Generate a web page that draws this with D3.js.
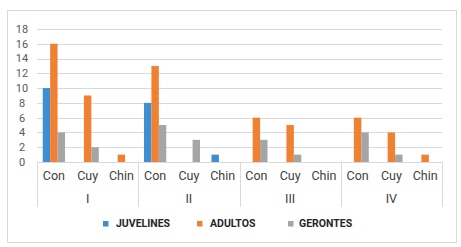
<!DOCTYPE html>
<html>
<head>
<meta charset="utf-8">
<script src="https://cdn.jsdelivr.net/npm/d3@7"></script>
<style>
  body { margin: 0; background: #fff; }
  text { font-family: "Liberation Sans Narrow", "Roboto", sans-serif; }
</style>
</head>
<body>
<div id="chart"></div>
<script>
const groups = ["I", "II", "III", "IV"];
const subcats = ["Con", "Cuy", "Chin"];
const seriesNames = ["JUVELINES", "ADULTOS", "GERONTES"];
const colors = ["#3E8FD2", "#F08133", "#A5A5A5"];

// values per group, in order Con, Cuy, Chin
const juvelines = [10, 0, 0,  8, 0, 1,  0, 0, 0,  0, 0, 0];
const adultos   = [16, 9, 1, 13, 0, 0,  6, 5, 0,  6, 4, 1];
const gerontes  = [ 4, 2, 0,  5, 3, 0,  3, 1, 0,  4, 1, 0];
const yTicks = [0, 2, 4, 6, 8, 10, 12, 14, 16, 18];

const W = 461, H = 247;
const margin = { left: 37, right: 19, top: 29, bottom: 85 };
const width = W - margin.left - margin.right,
      height = H - margin.top - margin.bottom;

const svg = d3.select("#chart").append("svg")
    .attr("width", W)
    .attr("height", H);

// outer frame
svg.append("rect")
    .attr("x", 7.5).attr("y", 10.5)
    .attr("width", 449).attr("height", 232)
    .attr("fill", "none")
    .attr("stroke", "#d9d9d9");

const g = svg.append("g")
    .attr("transform", `translate(${margin.left},${margin.top})`);

// build table
const cats = [];
groups.forEach((grp, gi) => {
    subcats.forEach((sc, si) => {
        const i = gi * 3 + si;
        cats.push({ id: grp + "-" + sc, group: grp, label: sc,
                    values: [juvelines[i], adultos[i], gerontes[i]] });
    });
});

const x0 = d3.scaleBand()
    .domain(cats.map(d => d.id))
    .range([0, width])
    .paddingInner(0.34)
    .paddingOuter(0.17);

const step = x0.step();

const x1 = d3.scaleBand()
    .domain(seriesNames)
    .range([0, x0.bandwidth()]);

const y = d3.scaleLinear()
    .domain([0, 18])
    .range([height, 0]);

// gridlines
g.selectAll("line.grid")
    .data(yTicks.filter(t => t > 0))
    .join("line")
    .attr("class", "grid")
    .attr("x1", 0).attr("x2", width)
    .attr("y1", d => Math.round(y(d)) + 0.5)
    .attr("y2", d => Math.round(y(d)) + 0.5)
    .attr("stroke", "#d9d9d9");

// y labels
g.selectAll("text.ytick")
    .data(yTicks)
    .join("text")
    .attr("class", "ytick")
    .attr("x", -15)
    .attr("y", d => y(d))
    .attr("dy", "0.35em")
    .attr("text-anchor", "middle")
    .attr("font-size", 11)
    .attr("fill", "#595959")
    .text(d => d);

// bars
const cg = g.selectAll("g.cat")
    .data(cats)
    .join("g")
    .attr("class", "cat")
    .attr("transform", d => `translate(${x0(d.id)},0)`);

cg.selectAll("rect")
    .data(d => d.values.map((v, i) => ({ key: seriesNames[i], value: v, i })))
    .join("rect")
    .attr("x", d => x1(d.key))
    .attr("width", x1.bandwidth())
    .attr("y", d => y(d.value))
    .attr("height", d => height - y(d.value))
    .attr("fill", d => colors[d.i]);

// baseline
g.append("line")
    .attr("x1", 0).attr("x2", width)
    .attr("y1", height + 0.5).attr("y2", height + 0.5)
    .attr("stroke", "#d9d9d9");

// group separators
const sepX = d3.range(groups.length + 1).map(i => i * 3 * step);
g.selectAll("line.sep")
    .data(sepX)
    .join("line")
    .attr("class", "sep")
    .attr("x1", d => Math.round(d) + 0.5).attr("x2", d => Math.round(d) + 0.5)
    .attr("y1", height).attr("y2", height + 45)
    .attr("stroke", "#d9d9d9");

// sub category labels
g.selectAll("text.sub")
    .data(cats)
    .join("text")
    .attr("class", "sub")
    .attr("x", d => x0(d.id) + x0.bandwidth() / 2)
    .attr("y", height + 14)
    .attr("dy", "0.35em")
    .attr("text-anchor", "middle")
    .attr("font-size", 12.5)
    .attr("fill", "#404040")
    .text(d => d.label);

// group labels
g.selectAll("text.grp")
    .data(groups)
    .join("text")
    .attr("class", "grp")
    .attr("x", (d, i) => (i * 3 + 1.5) * step)
    .attr("y", height + 37)
    .attr("dy", "0.35em")
    .attr("text-anchor", "middle")
    .attr("font-size", 12.5)
    .attr("fill", "#404040")
    .text(d => d);

// legend
const legendX = [103, 197, 288];
const leg = svg.selectAll("g.leg")
    .data(seriesNames)
    .join("g")
    .attr("class", "leg")
    .attr("transform", (d, i) => `translate(${legendX[i]},221)`);
leg.append("rect")
    .attr("width", 5.5).attr("height", 5.5)
    .attr("fill", (d, i) => colors[i]);
leg.append("text")
    .attr("x", (d, i) => i === 2 ? 11 : 13)
    .attr("y", 2.8)
    .attr("dy", "0.35em")
    .attr("font-size", 10.5)
    .attr("font-weight", "bold")
    .attr("fill", "#262626")
    .text(d => d);
</script>
</body>
</html>
